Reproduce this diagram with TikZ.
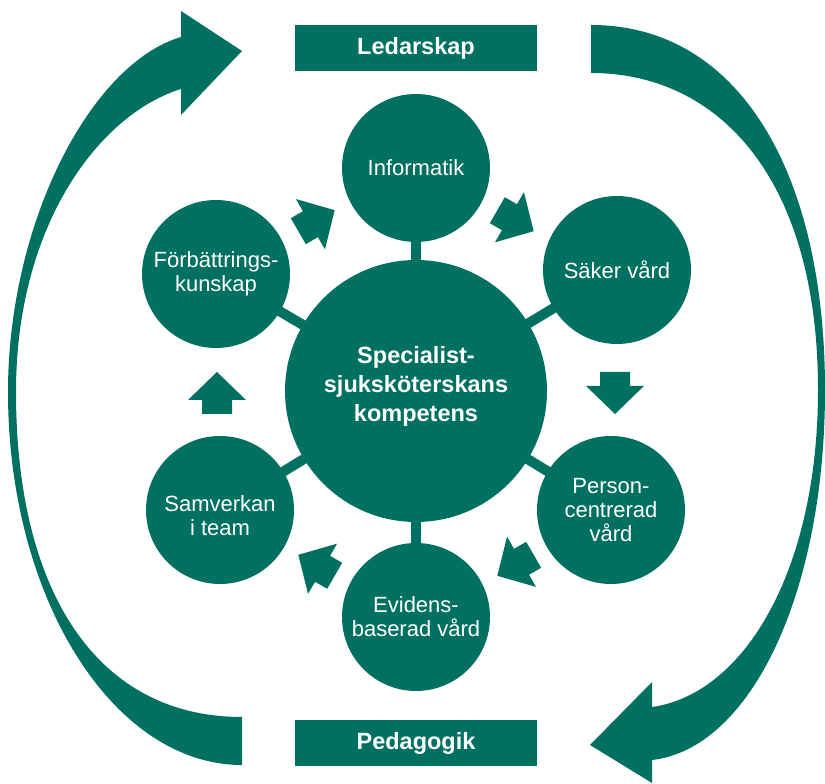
\documentclass[tikz,border=0pt]{standalone}
\usepackage{fontspec}
\setmainfont{Liberation Sans}
\usetikzlibrary{backgrounds}
\definecolor{teal}{RGB}{0,112,96}
\tikzset{
  sat/.style={circle, fill=teal, minimum size=148pt, inner sep=0pt, text=white, align=center,
    font=\fontsize{22}{24}\selectfont},
  sattext/.style={inner sep=0pt, text=white, align=center, font=\fontsize{22}{24}\selectfont},
  core/.style={circle, fill=teal, minimum size=262pt, inner sep=0pt},
  coretext/.style={inner sep=0pt, text=white, align=center,
    font=\bfseries\fontsize{23.5}{29}\selectfont},
  titlebox/.style={rectangle, fill=teal, minimum width=242pt, minimum height=46pt, inner sep=0pt,
    text=white, font=\bfseries\fontsize{23.5}{26}\selectfont},
  stem/.style={draw=teal, line width=10pt},
  blockarrow/.style={fill=teal},
  bigarrow/.style={fill=teal}
}
\newcommand{\blockarr}[3]{%
  \fill[blockarrow, shift={(#1,#2)}, rotate=#3]
    (-21,15) -- (-7,15) -- (-7,29) -- (21,0) -- (-7,-29) -- (-7,-15) -- (-21,-15) -- cycle;}
\begin{document}
\begin{tikzpicture}[x=1pt,y=1pt]
\useasboundingbox (0,0) rectangle (825,784);
% central and satellite circles
\node[core] (core) at (416,393) {};
\node[coretext] (coretxt) at (416,398) {Specialist-\\sjuksköterskans\\kompetens};
\node[sat] (info) at (416,616) {Informatik};
\node[sat] (saker) at (617,514) {Säker vård};
\node[sat] (person) at (611,274) {Person-\\centrerad\\vård};
\node[sat] (evid) at (416,167) {Evidens-\\baserad vård};
\node[sat] (samv) at (220,274) {};
\node[sattext] (samvtxt) at (220,268) {Samverkan\\i team};
\node[sat] (forb) at (216,510) {Förbättrings-\\kunskap};
\begin{pgfonlayer}{background}
\foreach \s in {info,saker,person,evid,samv,forb}
  \draw[stem] (core.center) -- (\s.center);
\end{pgfonlayer}
% title boxes
\node[titlebox] (ledar) at (416,736) {Ledarskap};
\node[titlebox] (pedag) at (416,41) {Pedagogik};
% small block arrows (clockwise)
\blockarr{615}{391}{-90}
\blockarr{515.5}{218.7}{-150}
\blockarr{316.5}{218.7}{150}
\blockarr{217}{391}{90}
\blockarr{316.5}{563.3}{30}
\blockarr{515.5}{563.3}{-30}
% right big arrow
\fill[bigarrow] (591,759) .. controls (740,759) and (825,610) .. (825,394)
  .. controls (825,190) and (750,35) .. (652,24)
  -- (652,1) -- (590,39) -- (652,102) -- (652,77)
  .. controls (745,90) and (818,215) .. (818,394)
  .. controls (818,604) and (720,711) .. (591,711) -- cycle;
% left big arrow
\fill[bigarrow] (242,19) .. controls (113,19) and (8,186) .. (8,392)
  .. controls (8,560) and (90,720) .. (181,747)
  -- (181,773) -- (242,733) -- (181,669) -- (181,695)
  .. controls (100,670) and (16,560) .. (16,392)
  .. controls (16,192) and (97,67) .. (242,67) -- cycle;
\end{tikzpicture}
\end{document}
